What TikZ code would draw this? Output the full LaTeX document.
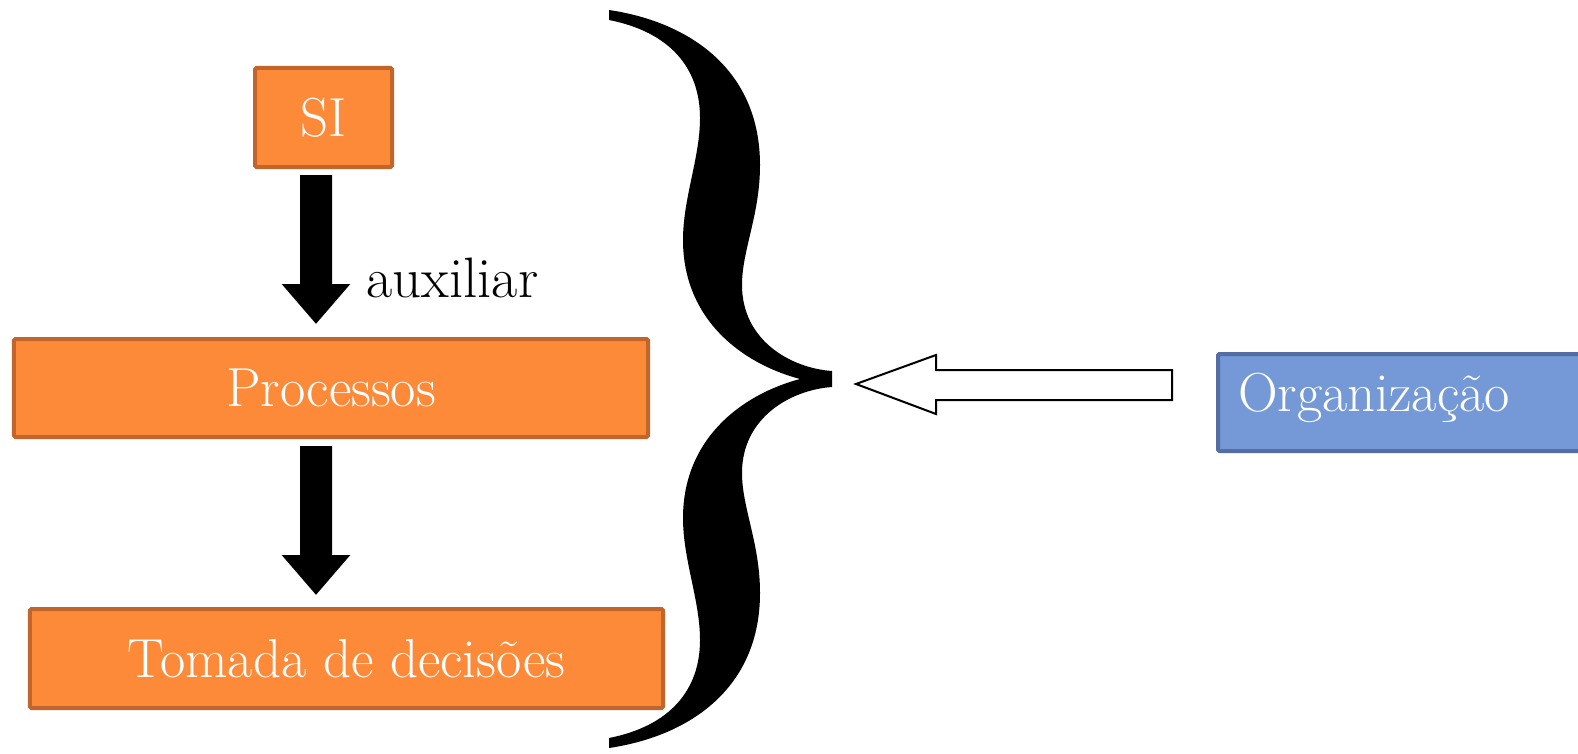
\documentclass[tikz,border=0pt]{standalone}
\usepackage{fontspec}
\usetikzlibrary{arrows.meta,calc}
\definecolor{orfill}{HTML}{FD8A39}
\definecolor{ordraw}{HTML}{C2652C}
\definecolor{blfill}{HTML}{7599D7}
\definecolor{bldraw}{HTML}{546EA5}
\tikzset{
  obox/.style={draw=ordraw, fill=orfill, line width=4bp, rounded corners=1.5bp, text=white, inner sep=0pt, font=\fontsize{55bp}{66bp}\selectfont},
  bbox/.style={draw=bldraw, fill=blfill, line width=4bp, rounded corners=1.5bp, text=white, inner sep=0pt, font=\fontsize{55bp}{66bp}\selectfont},
  blockarrow/.style={line width=32bp, -{Triangle[width=66bp,length=40bp]}},
  hollowarrow/.style={draw=black, fill=white, line width=2bp, line join=miter},
  lbl/.style={font=\fontsize{57bp}{68bp}\selectfont, inner sep=0pt}
}
\begin{document}
\begin{tikzpicture}[x=1bp,y=-1bp]
\path[use as bounding box, clip] (0,0) rectangle (1578,754);
% boxes
\node[obox, minimum width=137bp, minimum height=99bp] (si) at (323.5,117.5) {SI};
\node[obox, minimum width=634bp, minimum height=98bp] (proc) at (331,388) {Processos};
\node[obox, minimum width=633bp, minimum height=99bp] (tom) at (346.5,658.5) {Tomada de decisões};
\node[bbox, minimum width=380bp, minimum height=97bp, anchor=west] (org) at (1216,402.5) {};
\node[anchor=west, text=white, inner sep=0pt, font=\fontsize{55bp}{66bp}\selectfont] (orgt) at ([xshift=22bp,yshift=5bp]org.west) {Organização};
% block arrows
\draw[blockarrow] ([xshift=-7.5bp,yshift=-6bp]si.south) -- ([xshift=-15bp,yshift=13bp]proc.north);
\node[lbl, anchor=west] (aux) at (366,278) {auxiliar};
\draw[blockarrow] ([xshift=-15bp,yshift=-7bp]proc.south) -- ([xshift=-30.5bp,yshift=12bp]tom.north);
% brace
\coordinate (bt) at (832,379);
\fill[black] (609,10) .. controls (690,22) and (760,70) .. (760,165)
  .. controls (760,215) and (742,250) .. (742,285)
  .. controls (742,340) and (790,368) .. (832,371)
  -- (832,387)
  .. controls (790,390) and (742,418) .. (742,473)
  .. controls (742,508) and (760,543) .. (760,593)
  .. controls (760,688) and (690,736) .. (609,748)
  -- (609,738)
  .. controls (670,726) and (700,690) .. (700,640)
  .. controls (700,600) and (683,560) .. (683,518)
  .. controls (683,440) and (740,395) .. (800,379)
  .. controls (740,363) and (683,318) .. (683,240)
  .. controls (683,198) and (700,158) .. (700,118)
  .. controls (700,68) and (670,32) .. (609,20) -- cycle;
% hollow arrow from org to brace
\coordinate (tipc) at ($(bt)+(24,5)$);
\coordinate (tailc) at ($(org.west)+(-44,-17.5)$);
\draw[hollowarrow] (tipc) -- ++(80,-29) -- ++(0,15) -- (tailc |- 0,370) -- (tailc |- 0,400) -- ($(tipc)+(80,16)$) -- ++(0,14) -- cycle;
\end{tikzpicture}
\end{document}
